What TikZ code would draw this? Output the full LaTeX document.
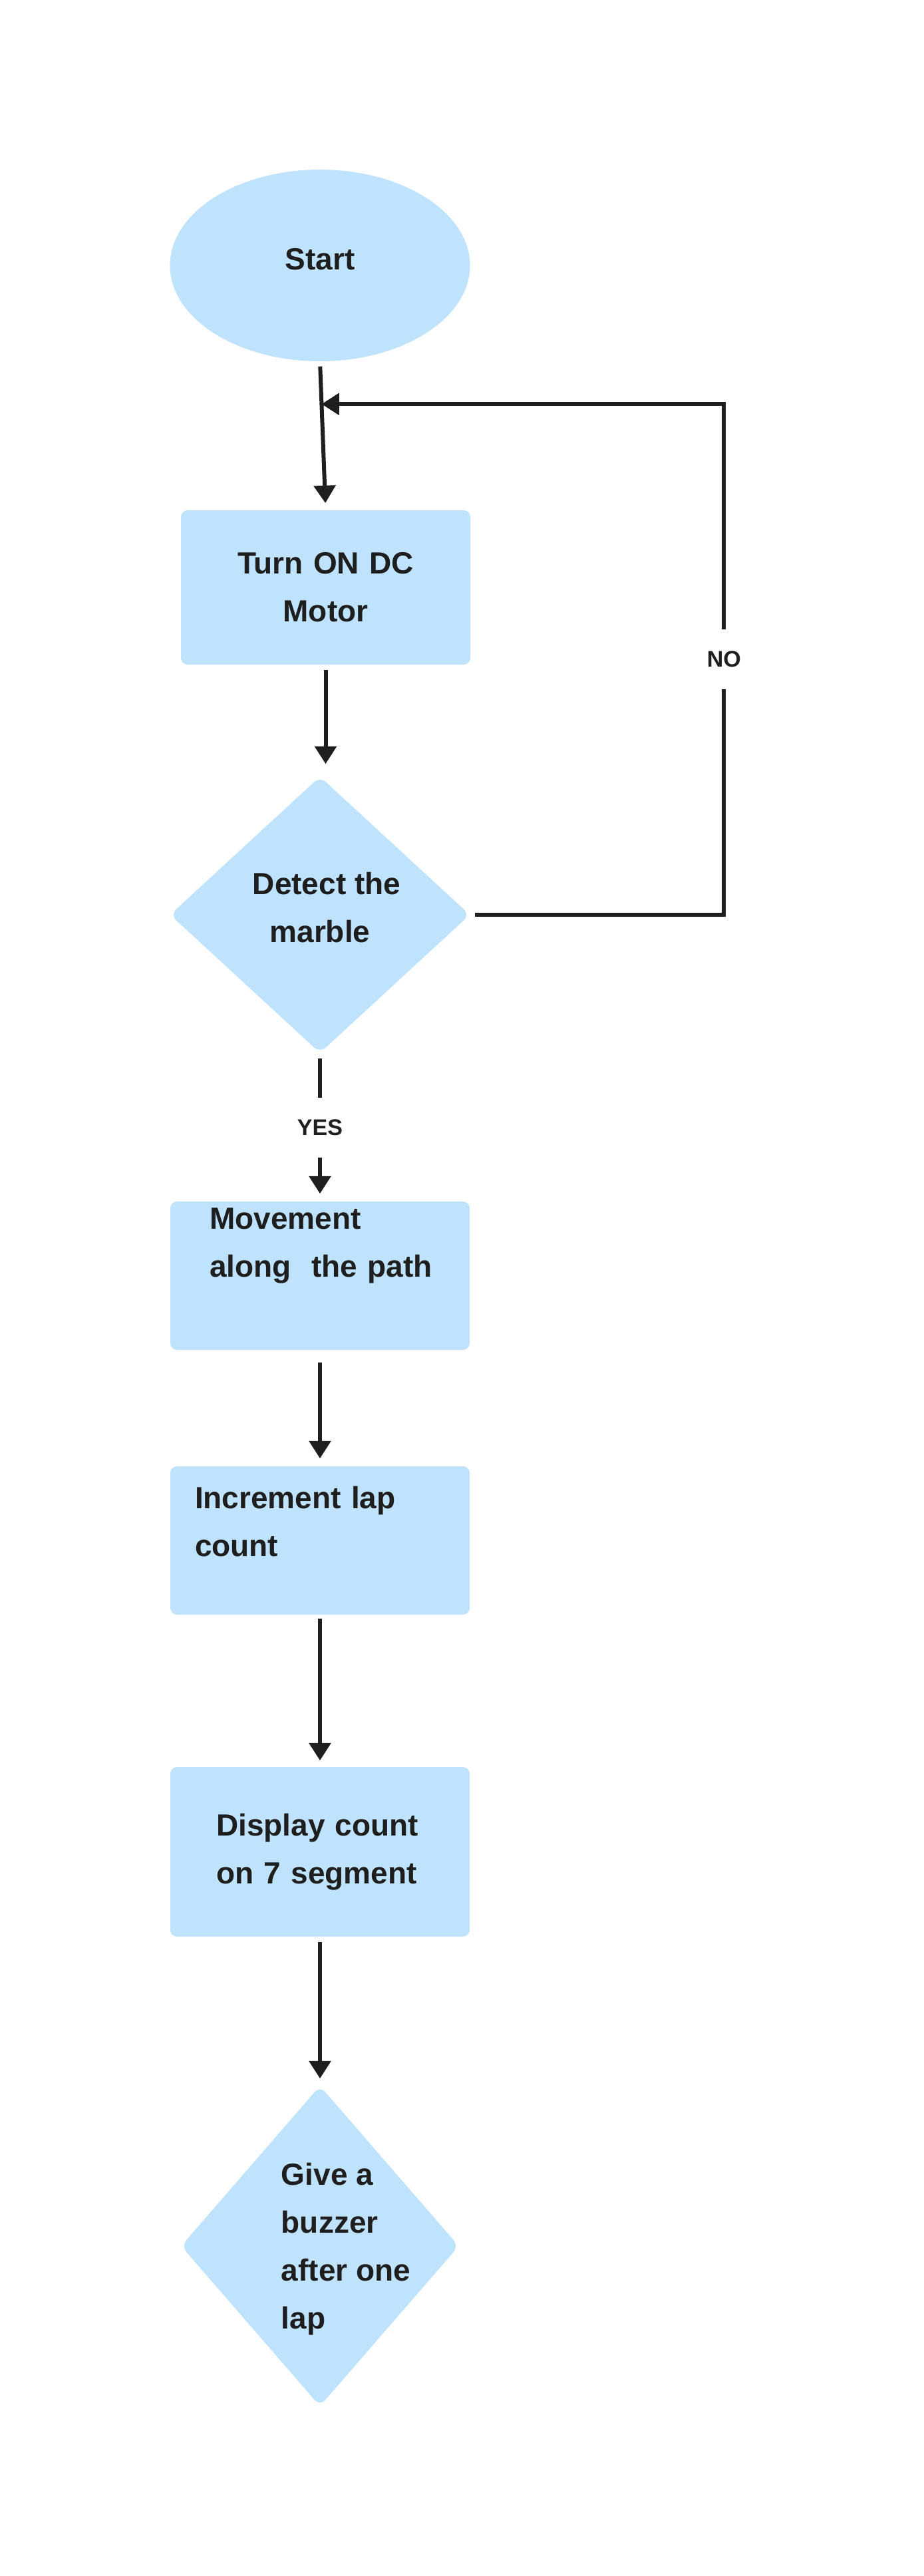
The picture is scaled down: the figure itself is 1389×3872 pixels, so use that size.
\documentclass[tikz,border=0pt]{standalone}
\usepackage{fontspec}
\setmainfont{Liberation Sans}
\usetikzlibrary{shapes, arrows.meta, calc, positioning}
\definecolor{flowblue}{HTML}{BFE3FC}
\definecolor{inkgray}{HTML}{1E1E1E}
\newcommand{\flowfont}{\bfseries\fontsize{11.5}{18}\selectfont}
\newcommand{\answerfont}{\bfseries\fontsize{8.5}{10}\selectfont}
\tikzstyle{terminal} = [ellipse, fill=flowblue, text=inkgray, font=\flowfont, inner sep=0pt, minimum width=112.75pt, minimum height=72pt]
\tikzstyle{process} = [rectangle, rounded corners=2.5pt, fill=flowblue, text=inkgray, font=\flowfont, inner sep=0pt]
\tikzstyle{decision} = [diamond, rounded corners=3pt, fill=flowblue, text=inkgray, font=\flowfont, inner sep=0pt]
\tikzstyle{flowline} = [draw=inkgray, line width=1.5pt, -{Triangle[length=6.6pt, width=8pt]}]
\tikzstyle{answer} = [fill=white, text=inkgray, font=\answerfont, inner xsep=1pt, inner ysep=0pt, minimum height=22.5pt]

\begin{document}
\begin{tikzpicture}[x=0.25pt, y=-0.25pt]
	\useasboundingbox (0,0) rectangle (1389,3872);
	\node[terminal, text depth=5pt] (start) at (481,399) {Start};
	\node[process, minimum width=108.75pt, minimum height=58pt, text width=100pt, align=center] (motor) at (489.5,883) {Turn ON DC\\Motor};
	\node[decision, minimum width=112.75pt, minimum height=104pt, align=center, text depth=5.4pt] (detect) at (481,1375) {\hspace*{5pt}Detect the\\marble};
	\node[process, minimum width=112.5pt, minimum height=55.75pt, text width=83pt, align=left, text height=8pt, text depth=43.25pt] (move) at (481,1917.5) {Movement\\along~~the~path};
	\node[process, minimum width=112.5pt, minimum height=55.75pt, text width=94pt, align=left, text height=8pt, text depth=32.25pt] (lap) at (481,2315.5) {Increment lap\\count};
	\node[process, minimum width=112.5pt, minimum height=63.75pt, text width=78pt, align=left] (show) at (481,2783.5) {Display count\\on 7 segment};
	\node[decision, minimum width=104.5pt, minimum height=120.5pt, text height=6.8pt, text depth=0pt] (buzz) at (481,3376) {\hspace*{19.5pt}\begin{tabular}{@{}l@{}}Give a\\buzzer\\after one\\lap\end{tabular}};

	\coordinate (merge) at ($(start.south)!0.286!(motor.north)$);
	\draw[flowline, shorten <=1.75pt, shorten >=2.5pt] (start.south) -- (motor.north);
	\draw[flowline, shorten <=1.75pt, shorten >=4.5pt] (motor.south) -- (motor.south |- detect.north);
	\draw[flowline, shorten <=1.75pt] (detect.east) -- ++(381,0) |- node[answer, pos=0.25] {NO} (merge);
	\draw[flowline, shorten <=1.75pt, shorten >=2.75pt] (detect.south) -- node[answer] {YES} (move.north);
	\draw[flowline, shorten <=4.5pt, shorten >=2.75pt] (move.south) -- (lap.north);
	\draw[flowline, shorten <=1.25pt, shorten >=2.25pt] (lap.south) -- (show.north);
	\draw[flowline, shorten <=1.75pt, shorten >=2.5pt] (show.south) -- (buzz.north);
\end{tikzpicture}
\end{document}
